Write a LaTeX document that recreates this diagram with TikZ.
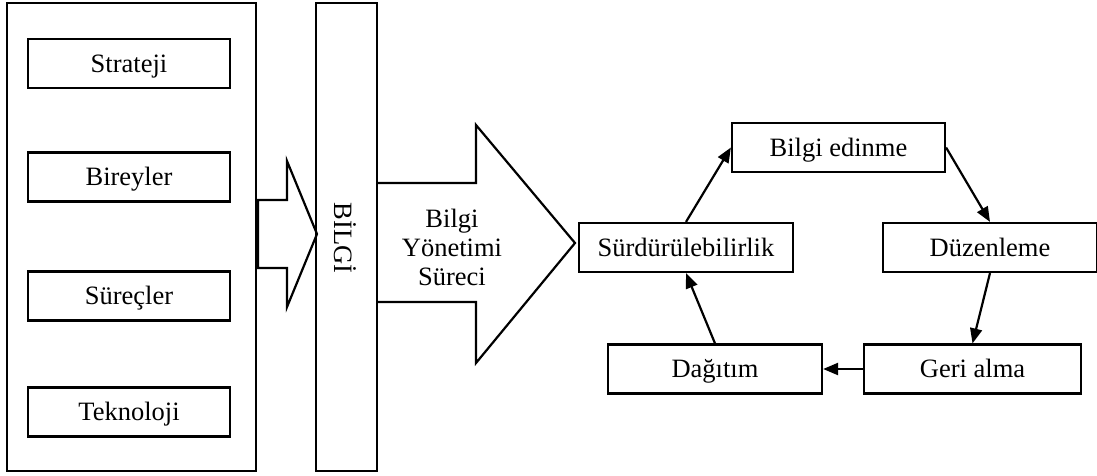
\documentclass[tikz,border=0pt]{standalone}
\usepackage{fontspec}
\setmainfont{Liberation Serif}
\usetikzlibrary{arrows.meta}
\begin{document}
\begin{tikzpicture}[x=1pt,y=-1pt,
  every node/.style={font=\fontsize{26.5}{29}\selectfont},
  box/.style={draw,line width=2.2pt,inner sep=0pt,minimum height=49pt,text height=19pt,text depth=2pt},
  conn/.style={line width=2.2pt,-{Triangle[length=15pt,width=12pt]}},
  outline/.style={draw,line width=2.2pt,line join=miter}]
\useasboundingbox (0,0) rectangle (1097,475);
% left container
\draw[outline] (7,3) rectangle (256,471);
\node[box,minimum width=202pt] (str) at (129,63.5) {Strateji};
\node[box,minimum width=202pt] (bir) at (129,177) {Bireyler};
\node[box,minimum width=202pt] (sur) at (129,296) {Süreçler};
\node[box,minimum width=202pt] (tek) at (129,412) {Teknoloji};
% small block arrow
\draw[outline] (258,200) -- (287,200) -- (287,161) -- (317,234) -- (287,307) -- (287,268) -- (258,268) -- cycle;
% BILGI column
\node[draw,line width=2.2pt,minimum width=61pt,minimum height=468pt,inner sep=0pt] (bilgi) at (346.5,237) {};
\node[rotate=-90] (bilgitxt) at (345,238) {BİLGİ};
% big block arrow
\draw[outline] (377,183) -- (476,183) -- (476,125) -- (575,243) -- (476,363) -- (476,302) -- (377,302);
\node[align=center] (bys) at (452,247) {Bilgi\\Yönetimi\\Süreci};
% cycle
\node[box,minimum width=213pt] (edin) at (838.5,147.5) {Bilgi edinme};
\node[box,minimum width=214pt] (surd) at (686,247.5) {Sürdürülebilirlik};
\node[box,minimum width=214pt] (duz) at (990,247.5) {Düzenleme};
\node[box,minimum width=214pt] (dag) at (715,369) {Dağıtım};
\node[box,minimum width=217pt] (geri) at (972.5,369) {Geri alma};
\draw[conn] (surd.north) -- (edin.west);
\draw[conn] (edin.east) -- (duz.north);
\draw[conn] (duz.south) -- (geri.north);
\draw[conn] (geri.west) -- (dag.east);
\draw[conn] (dag.north) -- (surd.south);
\end{tikzpicture}
\end{document}
